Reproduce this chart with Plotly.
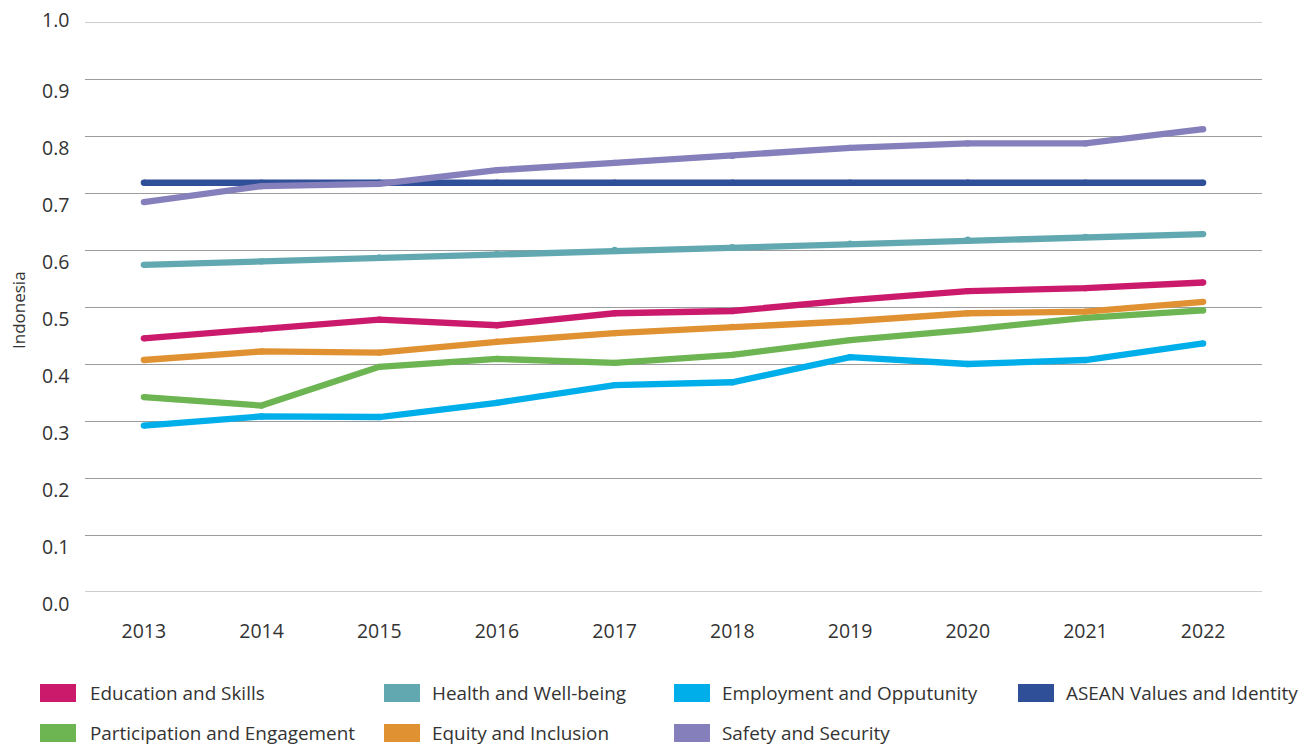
import plotly.graph_objects as go

years = ["2013", "2014", "2015", "2016", "2017", "2018", "2019", "2020", "2021", "2022"]

education = [0.445, 0.461, 0.478, 0.468, 0.489, 0.493, 0.512, 0.528, 0.533, 0.543]
health = [0.574, 0.580, 0.587, 0.593, 0.600, 0.605, 0.611, 0.618, 0.623, 0.628]
employment = [0.292, 0.308, 0.307, 0.332, 0.363, 0.368, 0.412, 0.400, 0.407, 0.436]
asean = [0.718, 0.718, 0.718, 0.718, 0.718, 0.718, 0.718, 0.718, 0.718, 0.718]
participation = [0.342, 0.327, 0.395, 0.409, 0.402, 0.416, 0.442, 0.460, 0.481, 0.494]
equity = [0.407, 0.422, 0.420, 0.439, 0.454, 0.465, 0.475, 0.489, 0.492, 0.509]
safety = [0.684, 0.712, 0.716, 0.740, 0.753, 0.765, 0.779, 0.787, 0.787, 0.812]

series_names = ["Education and Skills", "Health and Well-being", "Employment and Opputunity",
                "ASEAN Values and Identity", "Participation and Engagement",
                "Equity and Inclusion", "Safety and Security"]
series_values = [education, health, employment, asean, participation, equity, safety]
colors = ["#CB1A6C", "#61A8B0", "#00AEEA", "#2F4F98", "#6DB452", "#E09233", "#857FBB"]

y_ticks = [0.0, 0.1, 0.2, 0.3, 0.4, 0.5, 0.6, 0.7, 0.8, 0.9, 1.0]
y_tick_labels = ["0.0", "0.1", "0.2", "0.3", "0.4", "0.5", "0.6", "0.7", "0.8", "0.9", "1.0"]

W, H = 1312, 745
ML, MR, MT, MB = 85, 50, 22, 153
PW = W - ML - MR
PH = H - MT - MB

FONT = "Open Sans"
TXT = "#333333"


def px_x(x):
    return (x - ML) / PW


def px_y(y):
    return (H - MB - y) / PH


fig = go.Figure()
for name, vals, col in zip(series_names, series_values, colors):
    fig.add_trace(go.Scatter(
        x=years, y=vals, name=name, mode="lines+markers",
        line=dict(color=col, width=6.3),
        marker=dict(color=col, size=6.3, line=dict(width=0)),
        showlegend=False, hoverinfo="x+y+name",
    ))

annotations = []
# y tick labels
for v, lab in zip(y_ticks, y_tick_labels):
    annotations.append(dict(
        x=px_x(71), xref="paper", y=v, yref="y", text=lab, showarrow=False,
        xanchor="right", yanchor="middle", yshift=(3 if v == 1.0 else -11),
        font=dict(family=FONT, size=19.5, color=TXT),
    ))
# y axis title
annotations.append(dict(
    x=px_x(18), xref="paper", y=px_y(310), yref="paper", text="Indonesia",
    showarrow=False, textangle=-90, xanchor="center", yanchor="middle",
    font=dict(family=FONT, size=17, color=TXT),
))

# legend (manual)
legend_pos = [(40, 88, 693), (384, 430, 693), (674, 720, 693), (1018, 1064, 693),
              (40, 88, 733), (384, 430, 733), (674, 720, 733)]
shapes = []
for (sx, tx, cy), name, col in zip(legend_pos, series_names, colors):
    shapes.append(dict(
        type="rect", xref="paper", yref="paper",
        x0=px_x(sx), x1=px_x(sx + 36), y0=px_y(cy - 9), y1=px_y(cy + 9),
        fillcolor=col, line=dict(width=0),
    ))
    annotations.append(dict(
        x=px_x(tx), xref="paper", y=px_y(cy), yref="paper", text=name,
        showarrow=False, xanchor="left", yanchor="middle",
        font=dict(family=FONT, size=18.9, color=TXT),
    ))

# gridlines at the two range ends (plotly skips edge gridlines)
for v in (0.0, 1.0):
    shapes.append(dict(
        type="line", xref="paper", yref="y", x0=0, x1=1, y0=v, y1=v,
        line=dict(color="#9c9c9c", width=1), layer="below",
    ))

fig.update_layout(
    width=W, height=H,
    margin=dict(l=ML, r=MR, t=MT, b=MB),
    paper_bgcolor="white", plot_bgcolor="white",
    font=dict(family=FONT, size=19, color=TXT),
    showlegend=False,
    annotations=annotations,
    shapes=shapes,
    xaxis=dict(
        type="category", range=[-0.5, 9.5], showgrid=False, zeroline=False,
        showline=False, ticks="outside", ticklen=22, tickcolor="rgba(0,0,0,0)",
        tickfont=dict(family=FONT, size=19.5, color=TXT),
    ),
    yaxis=dict(
        range=[0, 1], tickvals=y_ticks, showticklabels=False, showgrid=True,
        gridcolor="#9c9c9c", gridwidth=1, zeroline=False, showline=False,
    ),
)

fig.write_html("out.html", config={"displayModeBar": False},
               post_script="document.body.style.margin='0';document.body.style.overflow='hidden';")
